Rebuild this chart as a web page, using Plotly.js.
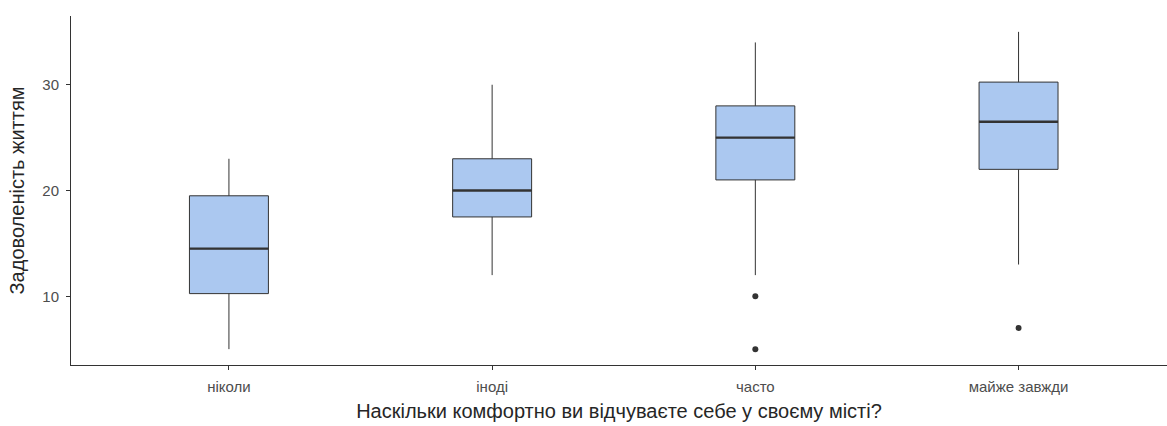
<!DOCTYPE html>
<html>
<head>
<meta charset="utf-8">
<script src="https://cdn.plot.ly/plotly-3.0.1.min.js"></script>
<style>html,body{margin:0;padding:0;background:#fff;}#chart{width:1167px;height:426px;}</style>
</head>
<body>
<div id="chart"></div>
<script>
const categories = ["ніколи", "іноді", "часто", "майже завжди"];
const lowerWhisker = [5, 12, 12, 13];
const q1Values = [10.25, 17.5, 21, 22];
const medianValues = [14.5, 20, 25, 26.5];
const q3Values = [19.5, 23, 28, 30.25];
const upperWhisker = [23, 30, 34, 35];
const outlierCategories = ["часто", "часто", "майже завжди"];
const outlierValues = [10, 5, 7];
const yTickValues = [10, 20, 30];

const boxWidth = 0.3;
const traces = [
  {
    type: "box",
    x: categories,
    q1: q1Values,
    median: medianValues,
    q3: q3Values,
    lowerfence: lowerWhisker,
    upperfence: upperWhisker,
    width: boxWidth,
    boxpoints: false,
    fillcolor: "#abc8f0",
    line: { color: "#333333", width: 1 },
    whiskerwidth: 0,
    hoverinfo: "skip",
    showlegend: false
  },
  {
    type: "scatter",
    mode: "markers",
    x: outlierCategories,
    y: outlierValues,
    marker: { color: "#333333", size: 6 },
    hoverinfo: "skip",
    showlegend: false
  }
];

const shapes = medianValues.map((m, i) => ({
  type: "line", xref: "x", yref: "y",
  x0: i - boxWidth / 2, x1: i + boxWidth / 2, y0: m, y1: m,
  line: { color: "#333333", width: 2.4 }
}));

const layout = {
  width: 1167, height: 426,
  margin: { l: 71, r: 0, t: 16, b: 61 },
  paper_bgcolor: "#ffffff", plot_bgcolor: "#ffffff",
  font: { family: "Liberation Sans, Arial, sans-serif", color: "#4d4d4d" },
  shapes: shapes,
  xaxis: {
    type: "category",
    categoryorder: "array", categoryarray: categories,
    range: [-0.6, 3.564],
    showgrid: false, zeroline: false,
    showline: true, linecolor: "#333333", linewidth: 1,
    ticks: "outside", ticklen: 4, tickcolor: "#333333", tickwidth: 1,
    ticklabelstandoff: 4,
    tickfont: { size: 15, color: "#4d4d4d" },
    title: { text: "Наскільки комфортно ви відчуваєте себе у своєму місті?", font: { size: 20, color: "#262626" }, standoff: 9 }
  },
  yaxis: {
    range: [3.5, 36.5],
    tickvals: yTickValues,
    showgrid: false, zeroline: false,
    showline: true, linecolor: "#333333", linewidth: 1,
    ticks: "outside", ticklen: 4, tickcolor: "#333333", tickwidth: 1,
    ticklabelstandoff: 4,
    tickfont: { size: 15, color: "#4d4d4d" },
    title: { text: "Задоволеність життям", font: { size: 20, color: "#262626" }, standoff: 12 }
  }
};

Plotly.newPlot("chart", traces, layout, { staticPlot: true, displayModeBar: false });
</script>
</body>
</html>
